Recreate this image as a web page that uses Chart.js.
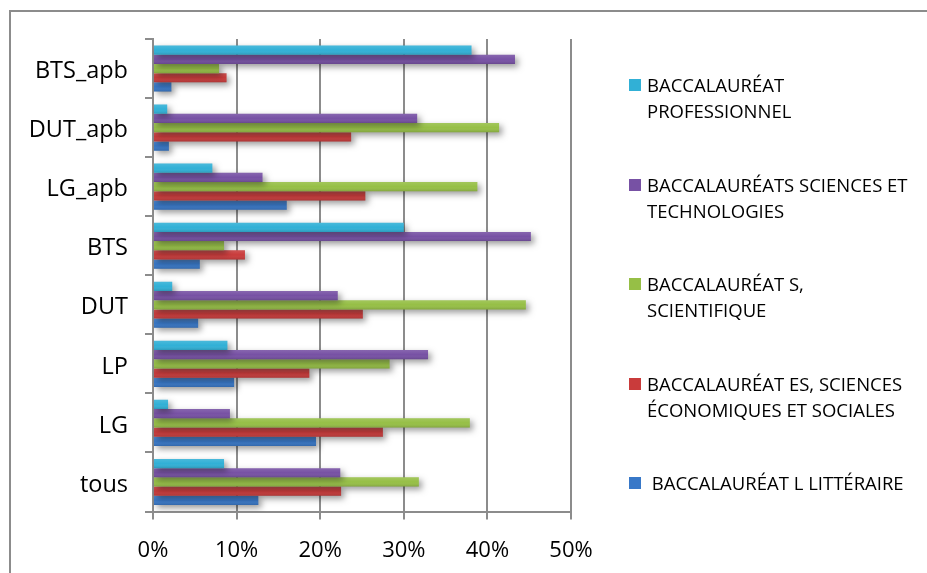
<!DOCTYPE html>
<html>
<head>
<meta charset="utf-8">
<script src="https://cdn.jsdelivr.net/npm/chart.js@4"></script>
<style>
    html, body { margin: 0; padding: 0; background: #fff; }
    #wrap { position: relative; width: 927px; height: 573px; overflow: hidden; }
    #frame { position: absolute; left: 9px; top: 10px; width: 940px; height: 600px;
             border-top: 2px solid #8c8c8c; border-left: 2px solid #8c8c8c; }
    #chartBox { position: absolute; left: 0; top: 0; width: 927px; height: 573px; }
    #legend { position: absolute; left: 629px; top: 72px; margin: 0; padding: 0; list-style: none;
              font-family: 'Open Sans', sans-serif; font-size: 18.5px; line-height: 26px; color: #000; }
    #legend li { position: relative; height: 99.5px; padding-left: 18px; white-space: pre-wrap; }
    #legend .swatch { position: absolute; left: 0; top: 7px; width: 12px; height: 12px; }
</style>
</head>
<body>
<div id="wrap">
    <div id="frame"></div>
    <div id="chartBox"><canvas id="barChart"></canvas></div>
    <ul id="legend"></ul>
</div>
<script>
const categories = ['BTS_apb', 'DUT_apb', 'LG_apb', 'BTS', 'DUT', 'LP', 'LG', 'tous'];
const bacPro = [38.1, 1.7, 7.1, 30.0, 2.3, 8.9, 1.8, 8.5];
const bacSTI = [43.3, 31.6, 13.1, 45.2, 22.1, 32.9, 9.2, 22.4];
const bacS = [7.9, 41.4, 38.8, 8.5, 44.6, 28.3, 37.9, 31.8];
const bacES = [8.8, 23.7, 25.4, 11.0, 25.1, 18.7, 27.5, 22.5];
const bacL = [2.2, 1.9, 16.0, 5.6, 5.4, 9.7, 19.5, 12.6];
const seriesLabels = [
    'BACCALAURÉAT\nPROFESSIONNEL',
    'BACCALAURÉATS SCIENCES ET\nTECHNOLOGIES',
    'BACCALAURÉAT S,\nSCIENTIFIQUE',
    'BACCALAURÉAT ES, SCIENCES\nÉCONOMIQUES ET SOCIALES',
    ' BACCALAURÉAT L LITTÉRAIRE'
];
const xTickValues = [0, 10, 20, 30, 40, 50];

const seriesColors = ['#31b0d6', '#7751a4', '#96bf46', '#c93b3b', '#3878c8'];
const axisGrey = '#8c8c8c';

// soft drop shadow under every bar, like the office chart
const shadowPlugin = {
    id: 'barShadow',
    beforeDatasetDraw(chart) {
        const ctx = chart.ctx;
        ctx.save();
        ctx.shadowColor = 'rgba(0, 0, 0, 0.4)';
        ctx.shadowBlur = 6;
        ctx.shadowOffsetX = 3;
        ctx.shadowOffsetY = 3;
    },
    afterDatasetDraw(chart, args) {
        const ctx = chart.ctx;
        ctx.restore();
        // light-to-dark shading across each bar
        args.meta.data.forEach(bar => {
            const top = bar.y - bar.height / 2;
            const grad = ctx.createLinearGradient(0, top, 0, top + bar.height);
            grad.addColorStop(0, 'rgba(255,255,255,0.12)');
            grad.addColorStop(0.5, 'rgba(255,255,255,0)');
            grad.addColorStop(1, 'rgba(0,0,0,0.14)');
            ctx.fillStyle = grad;
            ctx.fillRect(bar.base, top, bar.x - bar.base, bar.height);
        });
    }
};

document.addEventListener('DOMContentLoaded', _event => {
    const seriesValues = [bacPro, bacSTI, bacS, bacES, bacL];

    const chart = new Chart(document.getElementById('barChart').getContext('2d'), {
        type: 'bar',
        data: {
            labels: categories,
            datasets: seriesValues.map((values, i) => ({
                label: seriesLabels[i],
                data: values,
                backgroundColor: seriesColors[i],
                borderWidth: 0,
                categoryPercentage: 0.78,
                barPercentage: 1.0
            }))
        },
        options: {
            indexAxis: 'y',
            responsive: true,
            maintainAspectRatio: false,
            animation: false,
            layout: {
                padding: { left: 0, top: 39, right: 356, bottom: 0 }
            },
            plugins: {
                legend: { display: false },
                tooltip: { enabled: false }
            },
            scales: {
                x: {
                    min: 0,
                    max: 50,
                    afterBuildTicks: scale => {
                        scale.ticks = xTickValues.map(v => ({ value: v }));
                    },
                    afterFit: scale => { scale.height = 61.5; },
                    ticks: {
                        color: '#000',
                        padding: 18,
                        maxRotation: 0,
                        font: { family: 'Open Sans', size: 22 },
                        callback: value => value + '%'
                    },
                    grid: {
                        color: axisGrey,
                        lineWidth: 2,
                        tickLength: 8
                    },
                    border: { color: axisGrey, width: 2 }
                },
                y: {
                    afterFit: scale => { scale.width = 153; },
                    ticks: {
                        color: '#000',
                        padding: 17,
                        labelOffset: 3,
                        font: { family: 'Open Sans', size: 23.5 }
                    },
                    grid: {
                        offset: true,
                        drawOnChartArea: false,
                        color: axisGrey,
                        lineWidth: 2,
                        tickLength: 8
                    },
                    border: { color: axisGrey, width: 2 }
                }
            }
        },
        plugins: [shadowPlugin]
    });

    document.getElementById('legend').innerHTML = chart.data.datasets.map(ds => `
        <li><span class="swatch" style="background: ${ds.backgroundColor}"></span>${ds.label}</li>
    `.trim()).join('');
});
</script>
</body>
</html>
